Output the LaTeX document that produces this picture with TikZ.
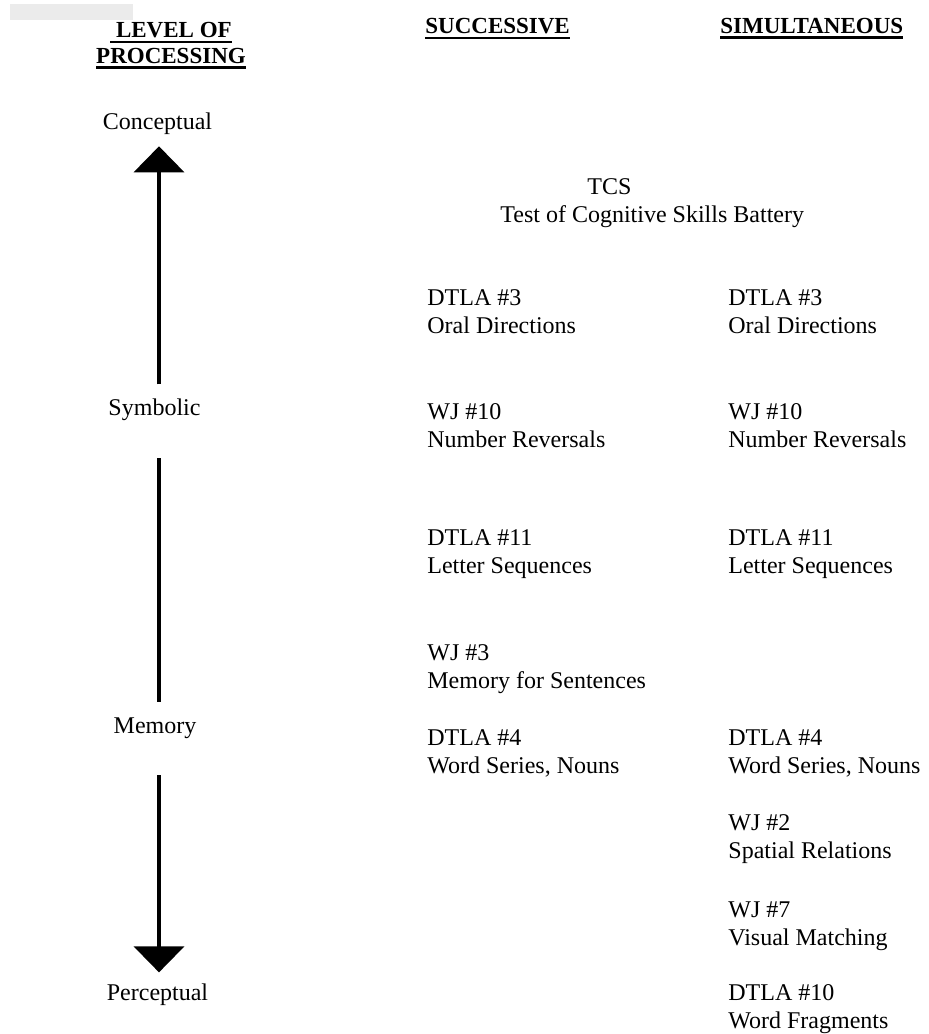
\documentclass[tikz,border=0pt]{standalone}
\usepackage{fontspec}
\setmainfont{Liberation Serif}
\usetikzlibrary{arrows.meta}
\newcommand{\headul}[1]{\vtop{\hbox{#1}\kern1.6pt\hrule height 1.1pt}}

\begin{document}
\begin{tikzpicture}[x=0.5pt,y=-0.5pt,
  level node/.style={font=\fontsize{12}{14}\selectfont,inner sep=0pt,anchor=base},
  test node/.style={font=\fontsize{12}{14}\selectfont,inner sep=0pt,
    align=left,anchor=base west},
  head node/.style={font=\fontsize{11.5}{13}\selectfont\bfseries,inner sep=0pt,
    align=center,anchor=base},
  scale line/.style={line width=2pt},
  scale arrow/.style={line width=2pt,-{Triangle[width=25pt,length=13pt]}}]

  \useasboundingbox (0,0) rectangle (928,1034);
  \fill[black!8] (10,4) rectangle (133,20);

  % column heads (multi-line nodes sit on their last line)
  \node[head node] (LEVEL) at (171,63) {\headul{\ LEVEL OF}\\\headul{PROCESSING}};
  \node[head node,anchor=base west] (SUCC) at (425,33) {\headul{SUCCESSIVE}};
  \node[head node,anchor=base west] (SIMUL) at (720,33) {\headul{SIMULTANEOUS}};

  % levels
  \node[level node] (CONC) at (157.5,129) {Conceptual};
  \node[level node] (SYMB) at (154.5,415) {Symbolic};
  \node[level node] (MEM) at (155,733) {Memory};
  \node[level node] (PERC) at (157.5,1000) {Perceptual};
  \coordinate (AXIS) at (159,0);

  \draw[scale arrow,shorten <=6.8pt,shorten >=5.9pt] (SYMB.north -| AXIS) -- (CONC.south -| AXIS);
  \draw[scale line,shorten <=18.9pt,shorten >=7.5pt] (SYMB.south -| AXIS) -- (MEM.north -| AXIS);
  \draw[scale arrow,shorten <=18.4pt,shorten >=5.3pt] (MEM.south -| AXIS) -- (PERC.north -| AXIS);

  % tests
  \node[test node] (TCS) at (500,222) {\hspace*{43.5pt}TCS\\Test of Cognitive Skills Battery};

  \node[test node] (SDTLA3) at (427,333) {DTLA \#3\\Oral Directions};
  \node[test node] (SWJ10) at (427,447) {WJ \#10\\Number Reversals};
  \node[test node] (SDTLA11) at (427,573) {DTLA \#11\\Letter Sequences};
  \node[test node] (SWJ3) at (427,688) {WJ \#3\\Memory for Sentences};
  \node[test node] (SDTLA4) at (427,773) {DTLA \#4\\Word Series, Nouns};

  \node[test node] (MDTLA3) at (728,333) {DTLA \#3\\Oral Directions};
  \node[test node] (MWJ10) at (728,447) {WJ \#10\\Number Reversals};
  \node[test node] (MDTLA11) at (728,573) {DTLA \#11\\Letter Sequences};
  \node[test node] (MDTLA4) at (728,773) {DTLA \#4\\Word Series, Nouns};
  \node[test node] (MWJ2) at (728,858) {WJ \#2\\Spatial Relations};
  \node[test node] (MWJ7) at (728,945) {WJ \#7\\Visual Matching};
  \node[test node] (MDTLA10) at (728,1028) {DTLA \#10\\Word Fragments};
\end{tikzpicture}
\end{document}
